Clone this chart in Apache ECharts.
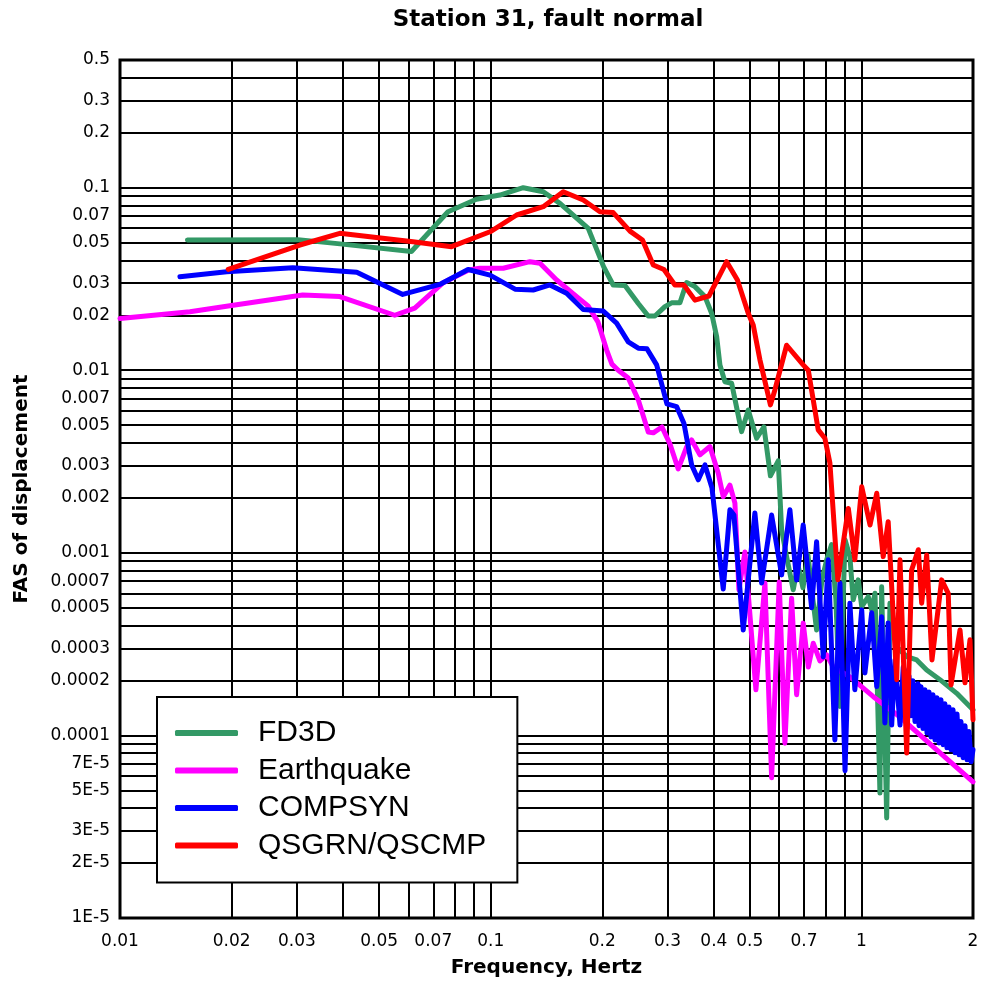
<!DOCTYPE html>
<html>
<head>
<meta charset="utf-8">
<script src="https://cdn.jsdelivr.net/npm/echarts@6/dist/echarts.min.js"></script>
<style>
  html, body { margin: 0; padding: 0; background: #fff; }
  #chart { width: 986px; height: 985px; }
</style>
</head>
<body>
<div id="chart"></div>
<script>
// ---- Data ----
const fd3dFreq = [0.0152,0.0302,0.0392,0.0611,0.0767,0.0915,0.1059,0.1224,0.1386,0.1537,0.1833,0.2016,0.214,0.2302,0.2501,0.2661,0.2774,0.2951,0.3076,0.3239,0.3377,0.3556,0.3784,0.3944,0.407,0.4153,0.4284,0.4466,0.4752,0.4951,0.5216,0.5458,0.5683,0.5966,0.6092,0.6284,0.6547,0.674,0.6955,0.7175,0.74,0.757,0.7825,0.806,0.831,0.8535,0.875,0.9033,0.931,0.9503,0.9803,1.002,1.0435,1.066,1.088,1.122,1.134,1.17,1.194,1.245,1.325,1.41,1.5,1.629,1.808,2.0];
const fd3dAmp = [0.0517,0.0519,0.0492,0.0447,0.0738,0.0863,0.0911,0.0999,0.095,0.082,0.0598,0.0369,0.0293,0.0291,0.0232,0.0198,0.0198,0.0223,0.0234,0.0234,0.0302,0.0287,0.0253,0.0205,0.01525,0.01068,0.00865,0.00848,0.00461,0.00606,0.00424,0.00489,0.00264,0.00319,0.001335,0.000953,0.000627,0.00086,0.000643,0.000974,0.000553,0.000378,0.000711,0.000915,0.00111,0.000553,0.000144,0.00118,0.000953,0.000553,0.000711,0.000508,0.000575,0.000487,0.0006,0.0000483,0.000652,0.0000353,0.00053,0.000306,0.00027,0.000259,0.000228,0.000202,0.00017,0.000138];

const quakeFreq = [0.01,0.01544,0.0202,0.0311,0.03917,0.0551,0.0624,0.0742,0.0872,0.0934,0.1081,0.1276,0.1358,0.1506,0.1706,0.183,0.1946,0.2055,0.2123,0.2208,0.235,0.2501,0.2661,0.2745,0.2897,0.3044,0.3205,0.3377,0.3484,0.3668,0.3903,0.411,0.4239,0.4419,0.4558,0.4673,0.485,0.5193,0.5492,0.5725,0.6002,0.6218,0.6482,0.6687,0.6966,0.719,0.7413,0.7728,0.806,0.8393,0.931,1.077,1.271,1.563,2.0];
const quakeAmp = [0.0192,0.0209,0.0227,0.0258,0.0253,0.02,0.0219,0.03,0.0354,0.0362,0.0362,0.0393,0.0385,0.0312,0.0253,0.0225,0.0184,0.0129,0.0108,0.01,0.00907,0.00688,0.00459,0.00454,0.00489,0.00395,0.00288,0.0038,0.00415,0.00344,0.00382,0.00273,0.00203,0.00235,0.00187,0.000627,0.00101,0.000178,0.000684,0.0000586,0.000693,0.0000907,0.000564,0.000167,0.000412,0.000237,0.00032,0.000256,0.000276,0.000237,0.000209,0.000163,0.000126,0.0000865,0.0000557];

const compsynFreq = [0.01451,0.0194,0.02926,0.04353,0.0579,0.07286,0.0869,0.0996,0.1163,0.1302,0.1445,0.1602,0.1777,0.2012,0.2186,0.235,0.2501,0.2639,0.2803,0.2988,0.3173,0.332,0.3484,0.363,0.3784,0.3952,0.4239,0.4419,0.453,0.48,0.516,0.538,0.5725,0.6092,0.6414,0.6687,0.6966,0.734,0.757,0.789,0.814,0.848,0.875,0.9033,0.931,0.96,1.002,1.022,1.066,1.1,1.134,1.157,1.181,1.207,1.232,1.271,1.297,
  1.311,1.327,1.344,1.36,1.377,1.395,1.421,1.43,1.448,1.466,1.484,1.503,1.522,1.54,1.56,1.579,1.599,1.619,1.639,1.66,1.68,1.701,1.723,1.745,1.767,1.789,1.811,1.834,1.856,1.88,1.903,1.927,1.951,1.976,2.0];
const compsynAmp = [0.0325,0.0346,0.0364,0.0344,0.026,0.0295,0.0356,0.0332,0.0278,0.0275,0.0293,0.0264,0.0215,0.0211,0.0181,0.0143,0.0132,0.0131,0.0107,0.00654,0.00632,0.00513,0.00303,0.00251,0.00303,0.00227,0.000634,0.00172,0.00161,0.000378,0.00165,0.000684,0.00161,0.000757,0.00172,0.00071,0.00142,0.0005,0.00115,0.000269,0.000915,0.0000945,0.000684,0.000064,0.00053,0.000178,0.000487,0.00022,0.000469,0.000185,0.000446,0.000117,0.000413,0.000114,0.000259,0.000114,0.000237,
  0.000225,0.000135,0.000212,0.000128,0.000199,0.000119,0.000192,0.000113,0.000185,0.000109,0.000178,0.000103,0.000173,0.0000981,0.000167,0.0000945,0.000161,0.000091,0.000157,0.000089,0.000149,0.0000855,0.000143,0.0000834,0.000138,0.0000803,0.000131,0.0000783,0.000119,0.0000755,0.000113,0.0000735,0.000105,0.0000717,0.0000834];

const qsgrnFreq = [0.01959,0.03056,0.03917,0.0617,0.0784,0.0996,0.1175,0.1386,0.1569,0.1777,0.1971,0.214,0.2375,0.2567,0.2745,0.2933,0.314,0.332,0.3556,0.3879,0.433,0.463,0.4951,0.5107,0.5324,0.5683,0.5843,0.6284,0.6966,0.719,0.7647,0.797,0.8223,0.864,0.922,0.96,1.002,1.055,1.1,1.145,1.181,1.245,1.271,1.325,1.366,1.424,1.454,1.5,1.55,1.646,1.715,1.745,1.845,1.903,1.963,2.0];
const qsgrnAmp = [0.0357,0.0485,0.0562,0.0506,0.0475,0.0573,0.0708,0.0786,0.095,0.0855,0.0738,0.073,0.0578,0.0517,0.0377,0.0356,0.0293,0.0293,0.0242,0.0255,0.0393,0.0312,0.0205,0.0177,0.0114,0.00646,0.0078,0.0137,0.0107,0.01,0.00471,0.00424,0.0031,0.000711,0.00175,0.000915,0.0023,0.00142,0.00212,0.000953,0.00148,0.000202,0.000915,0.00008,0.000806,0.00104,0.00053,0.000974,0.000259,0.000711,0.0006,0.000189,0.000378,0.000194,0.000334,0.000122];

// ---- Axis ticks / labels ----
const xTickValues = [0.01,0.02,0.03,0.05,0.07,0.1,0.2,0.3,0.4,0.5,0.7,1,2];
const xTickLabels = ['0.01','0.02','0.03','0.05','0.07','0.1','0.2','0.3','0.4','0.5','0.7','1','2'];
const xGridValues = [0.02,0.03,0.04,0.05,0.06,0.07,0.08,0.09,0.1,0.2,0.3,0.4,0.5,0.6,0.7,0.8,0.9,1];
const yTickValues = [0.5,0.3,0.2,0.1,0.07,0.05,0.03,0.02,0.01,0.007,0.005,0.003,0.002,0.001,0.0007,0.0005,0.0003,0.0002,0.0001,0.00007,0.00005,0.00003,0.00002,0.00001];
const yTickLabels = ['0.5','0.3','0.2','0.1','0.07','0.05','0.03','0.02','0.01','0.007','0.005','0.003','0.002','0.001','0.0007','0.0005','0.0003','0.0002','0.0001','7E-5','5E-5','3E-5','2E-5','1E-5'];
const yGridValues = [0.00002,0.00003,0.00004,0.00005,0.00006,0.00007,0.00008,0.00009,0.0001,0.0002,0.0003,0.0004,0.0005,0.0006,0.0007,0.0008,0.0009,0.001,0.002,0.003,0.004,0.005,0.006,0.007,0.008,0.009,0.01,0.02,0.03,0.04,0.05,0.06,0.07,0.08,0.09,0.1,0.2,0.3,0.4];

const seriesNames = ['FD3D','Earthquake','COMPSYN','QSGRN/QSCMP'];
const seriesColors = ['#339966','#ff00ff','#0000ff','#ff0000'];

function zip(xs, ys) { return xs.map((x, i) => [x, ys[i]]); }
function lookup(vals, labels) {
  return function (v) {
    const i = vals.findIndex(t => Math.abs(t - v) <= t * 1e-6);
    return i >= 0 ? labels[i] : '';
  };
}

const seriesData = [zip(fd3dFreq, fd3dAmp), zip(quakeFreq, quakeAmp), zip(compsynFreq, compsynAmp), zip(qsgrnFreq, qsgrnAmp)];

const chart = echarts.init(document.getElementById('chart'), null, { renderer: 'canvas' });
chart.setOption({
  animation: false,
  backgroundColor: '#ffffff',
  title: {
    text: 'Station 31, fault normal',
    left: 548, top: 9, padding: 0, textAlign: 'center',
    textStyle: { fontFamily: 'DejaVu Sans', fontWeight: 'bold', fontSize: 23, color: '#000' }
  },
  grid: {
    left: 120, right: 13, top: 60, bottom: 67,
    show: true, borderColor: '#000', borderWidth: 3, backgroundColor: 'transparent'
  },
  legend: {
    data: seriesNames,
    orient: 'vertical',
    left: 157, top: 697,
    padding: [21, 31, 22, 18],
    itemGap: 7.5,
    itemWidth: 63, itemHeight: 6,
    icon: 'roundRect',
    backgroundColor: '#fff',
    borderColor: '#000', borderWidth: 2,
    textStyle: { fontFamily: 'Liberation Sans', fontSize: 30, lineHeight: 30, color: '#000', padding: [0, 0, 0, 15] }
  },
  xAxis: {
    type: 'log', logBase: 10, min: 0.01, max: 2,
    name: 'Frequency, Hertz', nameLocation: 'middle', nameGap: 40,
    nameTextStyle: { fontFamily: 'DejaVu Sans', fontWeight: 'bold', fontSize: 20, color: '#000' },
    axisLine: { show: false },
    axisTick: { show: false, customValues: xGridValues },
    axisLabel: { customValues: xTickValues, formatter: lookup(xTickValues, xTickLabels), margin: 15,
      fontFamily: 'DejaVu Sans', fontSize: 17, color: '#000' },
    splitLine: { show: true, lineStyle: { color: '#000', width: 2 } }
  },
  yAxis: {
    type: 'log', logBase: 10, min: 0.00001, max: 0.5,
    name: 'FAS of displacement', nameLocation: 'middle', nameGap: 88,
    nameTextStyle: { fontFamily: 'DejaVu Sans', fontWeight: 'bold', fontSize: 20, color: '#000' },
    axisLine: { show: false },
    axisTick: { show: false, customValues: yGridValues },
    axisLabel: { customValues: yTickValues, formatter: lookup(yTickValues, yTickLabels), margin: 10,
      fontFamily: 'DejaVu Sans', fontSize: 17, color: '#000' },
    splitLine: { show: true, lineStyle: { color: '#000', width: 2 } }
  },
  series: seriesNames.map((name, i) => ({
    name: name,
    type: 'line',
    data: seriesData[i],
    showSymbol: false,
    symbol: 'none',
    clip: true,
    color: seriesColors[i],
    lineStyle: { color: seriesColors[i], width: 5, join: 'round', cap: 'round' },
    z: 2 + i
  }))
});
</script>
</body>
</html>
